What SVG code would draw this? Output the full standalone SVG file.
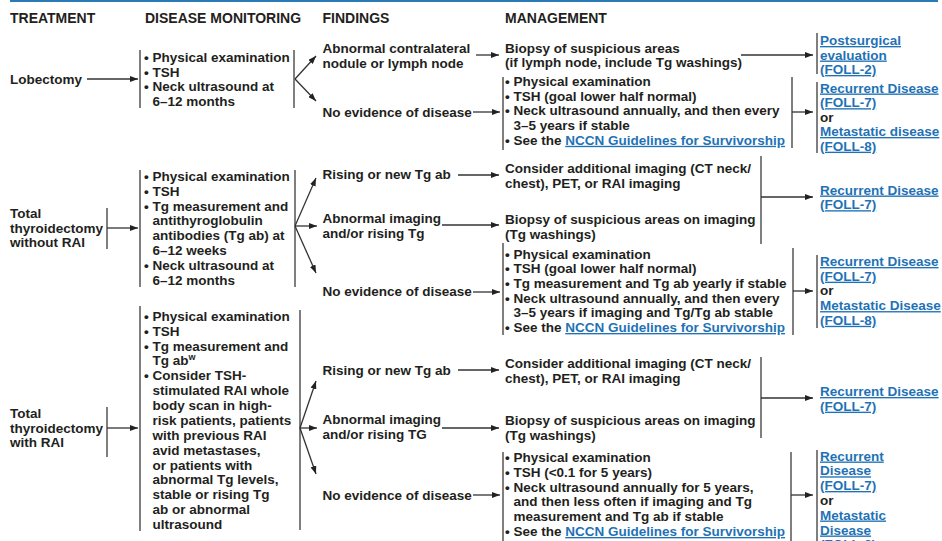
<svg xmlns="http://www.w3.org/2000/svg" width="942" height="541" viewBox="0 0 942 541">
<style>
text{font-family:"Liberation Sans",Arial,Helvetica,sans-serif;font-size:13.5px;font-weight:bold;fill:#231f20}
.h{font-size:14px}
.lk{fill:#1f72b6;text-decoration:underline}
.sup{font-size:9px}
.ln{stroke:#333;stroke-width:1.3;fill:none}
.bar{stroke:#555;stroke-width:1.5;fill:none}
</style>
<defs>
<marker id="ah" markerWidth="8" markerHeight="6" refX="8" refY="3" orient="auto" markerUnits="userSpaceOnUse">
<path d="M0,0 L8,3 L0,6 z" fill="#222"/>
</marker>
</defs>
<rect width="942" height="541" fill="#fff"/>
<line x1="10" y1="1" x2="938" y2="1" stroke="#2a7ab8" stroke-width="2"/>

<g id="headers">
<text class="h" x="10" y="22.5">TREATMENT</text>
<text class="h" x="145" y="22.5">DISEASE MONITORING</text>
<text class="h" x="322.5" y="22.5">FINDINGS</text>
<text class="h" x="505" y="22.5">MANAGEMENT</text>
</g>

<!-- Row 1 -->
<g id="lobectomy"><text x="10" y="83.5">Lobectomy</text></g>
<g id="mon1">
<line class="bar" x1="140" y1="50" x2="140" y2="108"/>
<line class="bar" x1="294" y1="50" x2="294" y2="108"/>
<text x="144" y="62">• Physical examination</text>
<text x="144" y="76.7">• TSH</text>
<text x="144" y="91.4">• Neck ultrasound at</text>
<text x="152.5" y="106">6–12 months</text>
</g>
<g id="f1a"><text x="322.5" y="53">Abnormal contralateral</text><text x="322.5" y="67.7">nodule or lymph node</text></g>
<g id="f1b"><text x="322.5" y="116.5">No evidence of disease</text></g>
<g id="m1a"><text x="505" y="52.7">Biopsy of suspicious areas</text><text x="505" y="67.4">(if lymph node, include Tg washings)</text></g>
<g id="m1b">
<line class="bar" x1="503" y1="77" x2="503" y2="150"/>
<line class="bar" x1="792" y1="77" x2="792" y2="148"/>
<text x="505" y="86">• Physical examination</text>
<text x="505" y="100.7">• TSH (goal lower half normal)</text>
<text x="505" y="115.4">• Neck ultrasound annually, and then every</text>
<text x="513.5" y="130.1">3–5 years if stable</text>
<text x="505" y="144.8">• See the <tspan class="lk">NCCN Guidelines for Survivorship</tspan></text>
</g>
<g id="t1a">
<line class="bar" x1="817" y1="33" x2="817" y2="74"/>
<text class="lk" x="820" y="45">Postsurgical</text>
<text class="lk" x="820" y="59.5">evaluation</text>
<text class="lk" x="820" y="74">(FOLL-2)</text>
</g>
<g id="t1b">
<line class="bar" x1="817" y1="82" x2="817" y2="153"/>
<text class="lk" x="820" y="92.5">Recurrent Disease</text>
<text x="820" y="107.2" class="lk">(FOLL-7)</text>
<text x="820" y="121.5">or</text>
<text class="lk" x="820" y="136">Metastatic disease</text>
<text class="lk" x="820" y="150.7">(FOLL-8)</text>
</g>

<!-- Row 2 -->
<g id="ttwo">
<line class="bar" x1="107" y1="208" x2="107" y2="249"/>
<text x="10" y="218">Total</text><text x="10" y="232.7">thyroidectomy</text><text x="10" y="247.4">without RAI</text>
</g>
<g id="mon2">
<line class="bar" x1="140" y1="170" x2="140" y2="287"/>
<line class="bar" x1="295" y1="170" x2="295" y2="287"/>
<text x="144" y="181">• Physical examination</text>
<text x="144" y="195.8">• TSH</text>
<text x="144" y="210.6">• Tg measurement and</text>
<text x="152.5" y="225.4">antithyroglobulin</text>
<text x="152.5" y="240.2">antibodies (Tg ab) at</text>
<text x="152.5" y="255">6–12 weeks</text>
<text x="144" y="269.8">• Neck ultrasound at</text>
<text x="152.5" y="284.6">6–12 months</text>
</g>
<g id="f2a"><text x="322.5" y="179">Rising or new Tg ab</text></g>
<g id="f2b"><text x="322.5" y="223.3">Abnormal imaging</text><text x="322.5" y="238">and/or rising Tg</text></g>
<g id="f2c"><text x="322.5" y="296">No evidence of disease</text></g>
<g id="m2a"><text x="505" y="173.3">Consider additional imaging (CT neck/</text><text x="505" y="188">chest), PET, or RAI imaging</text></g>
<g id="m2b"><text x="505" y="224">Biopsy of suspicious areas on imaging</text><text x="505" y="238.7">(Tg washings)</text></g>
<g id="m2c">
<line class="bar" x1="503" y1="243" x2="503" y2="335"/>
<line class="bar" x1="793" y1="248" x2="793" y2="335"/>
<text x="505" y="258.5">• Physical examination</text>
<text x="505" y="273.2">• TSH (goal lower half normal)</text>
<text x="505" y="287.9">• Tg measurement and Tg ab yearly if stable</text>
<text x="505" y="302.6">• Neck ultrasound annually, and then every</text>
<text x="513.5" y="317.3">3–5 years if imaging and Tg/Tg ab stable</text>
<text x="505" y="332">• See the <tspan class="lk">NCCN Guidelines for Survivorship</tspan></text>
</g>
<g id="t2a">
<text class="lk" x="820" y="194.5">Recurrent Disease</text>
<text class="lk" x="820" y="209.2">(FOLL-7)</text>
</g>
<g id="t2b">
<line class="bar" x1="817" y1="255" x2="817" y2="328"/>
<text class="lk" x="820" y="266">Recurrent Disease</text>
<text class="lk" x="820" y="280.7">(FOLL-7)</text>
<text x="820" y="295.4">or</text>
<text class="lk" x="820" y="310.1">Metastatic Disease</text>
<text class="lk" x="820" y="324.8">(FOLL-8)</text>
</g>

<!-- Row 3 -->
<g id="tthree">
<line class="bar" x1="107" y1="407" x2="107" y2="457"/>
<text x="10" y="418">Total</text><text x="10" y="432.7">thyroidectomy</text><text x="10" y="447.4">with RAI</text>
</g>
<g id="mon3">
<line class="bar" x1="140" y1="306" x2="140" y2="531"/>
<line class="bar" x1="300" y1="310" x2="300" y2="530"/>
<text x="144" y="320.8">• Physical examination</text>
<text x="144" y="335.7">• TSH</text>
<text x="144" y="350.5">• Tg measurement and</text>
<text x="152.5" y="365.4">Tg ab<tspan class="sup" dy="-5">w</tspan></text>
<text x="144" y="380.3">• Consider TSH-</text>
<text x="152.5" y="395.2">stimulated RAI whole</text>
<text x="152.5" y="410">body scan in high-</text>
<text x="152.5" y="424.9">risk patients, patients</text>
<text x="152.5" y="439.8">with previous RAI</text>
<text x="152.5" y="454.6">avid metastases,</text>
<text x="152.5" y="469.5">or patients with</text>
<text x="152.5" y="484.4">abnormal Tg levels,</text>
<text x="152.5" y="499.2">stable or rising Tg</text>
<text x="152.5" y="514.1">ab or abnormal</text>
<text x="152.5" y="529">ultrasound</text>
</g>
<g id="f3a"><text x="322.5" y="374.5">Rising or new Tg ab</text></g>
<g id="f3b"><text x="322.5" y="424.3">Abnormal imaging</text><text x="322.5" y="439.2">and/or rising TG</text></g>
<g id="f3c"><text x="322.5" y="499.5">No evidence of disease</text></g>
<g id="m3a"><text x="505" y="368.3">Consider additional imaging (CT neck/</text><text x="505" y="383">chest), PET, or RAI imaging</text></g>
<g id="m3b"><text x="505" y="425">Biopsy of suspicious areas on imaging</text><text x="505" y="439.7">(Tg washings)</text></g>
<g id="m3c">
<line class="bar" x1="503" y1="452" x2="503" y2="541"/>
<line class="bar" x1="791" y1="452" x2="791" y2="541"/>
<text x="505" y="462">• Physical examination</text>
<text x="505" y="476.8">• TSH (&lt;0.1 for 5 years)</text>
<text x="505" y="491.6">• Neck ultrasound annually for 5 years,</text>
<text x="513.5" y="506.4">and then less often if imaging and Tg</text>
<text x="513.5" y="521.2">measurement and Tg ab if stable</text>
<text x="505" y="536">• See the <tspan class="lk">NCCN Guidelines for Survivorship</tspan></text>
</g>
<g id="t3a">
<text class="lk" x="820" y="396">Recurrent Disease</text>
<text class="lk" x="820" y="410.7">(FOLL-7)</text>
</g>
<g id="t3b">
<line class="bar" x1="817" y1="450" x2="817" y2="541"/>
<text class="lk" x="820" y="460.5">Recurrent</text>
<text class="lk" x="820" y="475.3">Disease</text>
<text class="lk" x="820" y="490">(FOLL-7)</text>
<text x="820" y="504.5">or</text>
<text class="lk" x="820" y="519.5">Metastatic</text>
<text class="lk" x="820" y="534.5">Disease</text>
<text class="lk" x="820" y="549.3">(FOLL-8)</text>
</g>

<g id="connectors">
<!-- row 1 -->
<line class="ln" x1="87" y1="79" x2="138" y2="79" marker-end="url(#ah)"/>
<line class="ln" x1="295" y1="79" x2="316" y2="56" marker-end="url(#ah)"/>
<line class="ln" x1="295" y1="79" x2="316" y2="101" marker-end="url(#ah)"/>
<line class="ln" x1="476" y1="55" x2="499" y2="55" marker-end="url(#ah)"/>
<line class="ln" x1="473" y1="112" x2="500" y2="112" marker-end="url(#ah)"/>
<line class="ln" x1="741" y1="55" x2="813" y2="55" marker-end="url(#ah)"/>
<line class="ln" x1="792" y1="112" x2="813" y2="112" marker-end="url(#ah)"/>
<!-- row 2 -->
<line class="ln" x1="107" y1="228" x2="138" y2="228" marker-end="url(#ah)"/>
<line class="ln" x1="295" y1="226" x2="316" y2="178" marker-end="url(#ah)"/>
<line class="ln" x1="295" y1="226" x2="317" y2="226" marker-end="url(#ah)"/>
<line class="ln" x1="295" y1="226" x2="316" y2="273" marker-end="url(#ah)"/>
<line class="ln" x1="458" y1="175" x2="499" y2="175" marker-end="url(#ah)"/>
<line class="ln" x1="442" y1="225" x2="499" y2="225" marker-end="url(#ah)"/>
<line class="ln" x1="473" y1="292" x2="500" y2="292" marker-end="url(#ah)"/>
<line class="bar" x1="761" y1="156" x2="761" y2="244"/>
<line class="ln" x1="761" y1="197" x2="813" y2="197" marker-end="url(#ah)"/>
<line class="ln" x1="793" y1="291" x2="813" y2="291" marker-end="url(#ah)"/>
<!-- row 3 -->
<line class="ln" x1="107" y1="428" x2="138" y2="428" marker-end="url(#ah)"/>
<line class="ln" x1="300" y1="428" x2="316" y2="381" marker-end="url(#ah)"/>
<line class="ln" x1="300" y1="428" x2="317" y2="428" marker-end="url(#ah)"/>
<line class="ln" x1="300" y1="428" x2="316" y2="474" marker-end="url(#ah)"/>
<line class="ln" x1="458" y1="370" x2="499" y2="370" marker-end="url(#ah)"/>
<line class="ln" x1="442" y1="428" x2="499" y2="428" marker-end="url(#ah)"/>
<line class="ln" x1="473" y1="495" x2="500" y2="495" marker-end="url(#ah)"/>
<line class="bar" x1="761" y1="357" x2="761" y2="438"/>
<line class="ln" x1="761" y1="398" x2="813" y2="398" marker-end="url(#ah)"/>
<line class="ln" x1="791" y1="495" x2="813" y2="495" marker-end="url(#ah)"/>
</g>
</svg>
